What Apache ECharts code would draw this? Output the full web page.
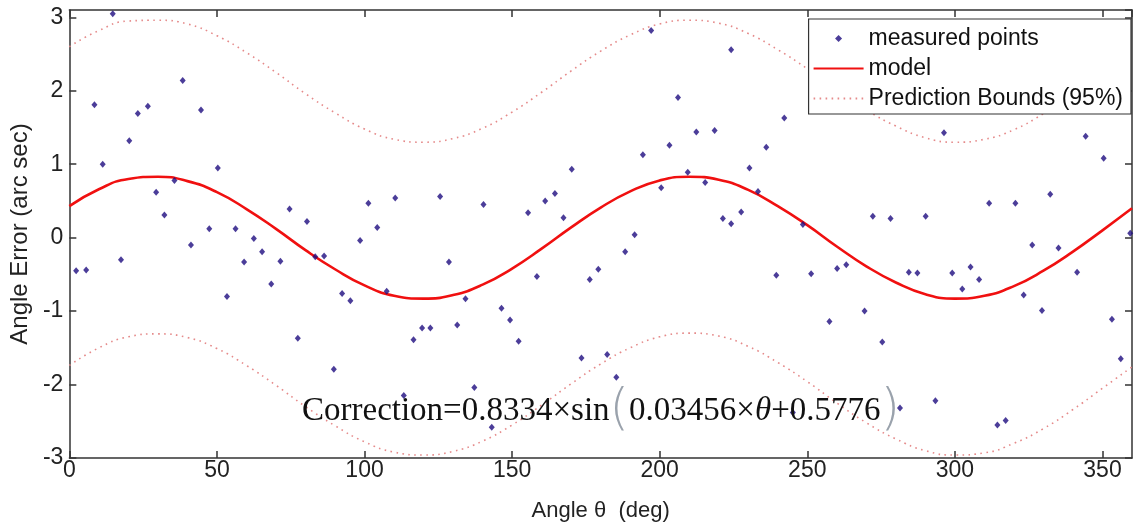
<!DOCTYPE html>
<html>
<head>
<meta charset="utf-8">
<script src="https://cdn.jsdelivr.net/npm/echarts@6/dist/echarts.min.js"></script>
<style>html,body{margin:0;padding:0;background:#fff;}#c{width:1136px;height:527px;}</style>
</head>
<body>
<div id="c"></div>
<script>
// measured points (deg, arc sec)
const pointAngles = [2.3,5.7,8.5,11.3,14.7,17.5,20.3,23.2,26.6,29.4,32.2,35.6,38.4,41.2,44.6,47.4,50.3,53.4,56.3,59.2,62.5,65.3,68.4,71.5,74.6,77.4,80.5,83.3,86.3,89.6,92.4,95.2,98.5,101.3,104.3,107.5,110.4,113.3,116.6,119.5,122.3,125.6,128.6,131.4,134.2,137.2,140.3,143.1,146.4,149.3,152.2,155.4,158.4,161.2,164.5,167.4,170.2,173.5,176.3,179.2,182.2,185.3,188.3,191.5,194.3,197.1,200.5,203.3,206.2,209.5,212.4,215.4,218.6,221.4,224.2,224.2,227.6,230.4,233.3,236.1,239.5,242.2,245.1,248.5,251.3,257.5,260.1,263.2,269.4,272.2,275.4,278.2,281.4,284.4,287.3,290.1,293.4,296.3,299.1,302.5,305.3,308.2,311.6,314.4,317.2,320.5,323.3,326.2,329.5,332.3,335.1,341.4,344.3,350.4,353.2,356.2,359.4];
const pointErrors = [-0.45,-0.44,1.81,1.00,3.05,-0.30,1.32,1.69,1.79,0.62,0.31,0.78,2.14,-0.10,1.74,0.12,0.95,-0.80,0.12,-0.33,-0.01,-0.19,-0.63,-0.32,0.39,-1.37,0.22,-0.26,-0.25,-1.79,-0.76,-0.86,-0.04,0.47,0.14,-0.73,0.54,-2.15,-1.39,-1.23,-1.23,0.56,-0.33,-1.19,-0.83,-2.04,0.45,-2.58,-0.96,-1.12,-1.41,0.34,-0.53,0.50,0.60,0.27,0.93,-1.64,-0.57,-0.43,-1.59,-1.90,-0.19,0.04,1.13,2.82,0.68,1.26,1.91,0.89,1.44,0.75,1.46,0.26,0.19,2.56,0.35,0.95,0.63,1.23,-0.51,1.63,-2.38,0.18,-0.49,-1.14,-0.42,-0.37,-1.00,0.29,-1.42,0.26,-2.32,-0.47,-0.48,0.29,-2.22,1.43,-0.48,-0.70,-0.40,-0.57,0.47,-2.55,-2.49,0.47,-0.78,-0.10,-0.99,0.59,-0.14,-0.47,1.38,1.08,-1.11,-1.65,0.06];

// model curve and prediction bounds read at 10-degree steps
const curveAngles = [0,10,20,30,40,50,60,70,80,90,100,110,120,130,140,150,160,170,180,190,200,210,220,230,240,250,260,270,280,290,300,310,320,330,340,350,360];
const modelValues = [0.43,0.66,0.80,0.83,0.77,0.62,0.39,0.12,-0.17,-0.43,-0.65,-0.79,-0.83,-0.78,-0.64,-0.42,-0.15,0.14,0.41,0.63,0.78,0.83,0.79,0.65,0.43,0.17,-0.12,-0.39,-0.61,-0.77,-0.83,-0.79,-0.66,-0.45,-0.19,0.10,0.40];
const upperBound = [2.60,2.82,2.95,2.96,2.91,2.75,2.52,2.25,1.96,1.70,1.48,1.34,1.30,1.35,1.49,1.71,1.98,2.27,2.54,2.76,2.91,2.96,2.92,2.78,2.56,2.30,2.01,1.74,1.52,1.36,1.30,1.34,1.47,1.69,1.96,2.26,2.57];
const lowerBound = [-1.74,-1.50,-1.35,-1.31,-1.36,-1.51,-1.74,-2.01,-2.30,-2.56,-2.78,-2.92,-2.96,-2.91,-2.77,-2.55,-2.28,-1.99,-1.72,-1.50,-1.35,-1.30,-1.34,-1.48,-1.70,-1.96,-2.25,-2.52,-2.74,-2.90,-2.96,-2.93,-2.80,-2.60,-2.34,-2.05,-1.76];

const seriesNames = ['measured points','model','Prediction Bounds (95%)'];
const xLabelTitle = 'Angle θ  (deg)';
const yLabelTitle = 'Angle Error (arc sec)';

const zip = (a, b) => a.map((v, i) => [v, b[i]]);

const chart = echarts.init(document.getElementById('c'), null, {renderer: 'canvas'});
const axisCommon = {
  axisLine: {show: true, onZero: false, lineStyle: {color: '#333', width: 1.5}},
  axisTick: {show: true, inside: true, length: 7, lineStyle: {color: '#333', width: 1.5}},
  splitLine: {show: false}
};
const pinkDots = {color: '#e58a8a', width: 1.6, type: [1.6, 4.4]};
const dotColor = '#1e0c80';
chart.setOption({
  animation: false,
  backgroundColor: '#fff',
  grid: {left: 68, right: 4, top: 10, bottom: 69},
  legend: {
    orient: 'vertical', right: 5, top: 19,
    backgroundColor: '#fff', borderColor: '#333', borderWidth: 1.2, borderRadius: 0,
    padding: [8, 8, 4, 4],
    itemWidth: 50, itemHeight: 7, itemGap: 7,
    textStyle: {fontFamily: 'Liberation Sans, Arial', fontSize: 23, color: '#111'},
    data: [
      {name: seriesNames[0], icon: 'path://M0,0 M48,7 M24,0 L27.5,3.5 L24,7 L20.5,3.5 Z', itemStyle: {color: dotColor}},
      {name: seriesNames[1], itemStyle: {opacity: 0}},
      {name: seriesNames[2], itemStyle: {opacity: 0}}
    ]
  },
  xAxis: [
    Object.assign({type: 'value', min: 0, max: 360, interval: 50, position: 'bottom',
      name: xLabelTitle, nameLocation: 'middle', nameGap: 42,
      nameTextStyle: {fontFamily: 'Liberation Sans, Arial', fontSize: 22, color: '#222'},
      axisLabel: {fontFamily: 'Liberation Sans, Arial', fontSize: 23, color: '#222', margin: 1, showMaxLabel: false}
    }, axisCommon),
    Object.assign({type: 'value', min: 0, max: 360, interval: 50, position: 'top', axisLabel: {show: false}}, axisCommon)
  ],
  yAxis: [
    Object.assign({type: 'value', min: -3, max: 3.1, interval: 1, position: 'left',
      name: yLabelTitle, nameLocation: 'middle', nameGap: 34,
      nameTextStyle: {fontFamily: 'Liberation Sans, Arial', fontSize: 24, color: '#222'},
      axisLabel: {fontFamily: 'Liberation Sans, Arial', fontSize: 23, color: '#222', margin: 6, showMaxLabel: false}
    }, axisCommon),
    Object.assign({type: 'value', min: -3, max: 3.1, interval: 1, position: 'right', axisLabel: {show: false}}, axisCommon)
  ],
  series: [
    {
      name: seriesNames[2], type: 'line', data: zip(curveAngles, upperBound),
      smooth: 0.5, symbol: 'none', lineStyle: pinkDots, itemStyle: {color: '#e58a8a'}, z: 2
    },
    {
      name: seriesNames[2], type: 'line', data: zip(curveAngles, lowerBound),
      smooth: 0.5, symbol: 'none', lineStyle: pinkDots, itemStyle: {color: '#e58a8a'}, z: 2
    },
    {
      name: seriesNames[1], type: 'line', data: zip(curveAngles, modelValues),
      smooth: 0.5, symbol: 'none', lineStyle: {color: '#f01010', width: 2.6}, itemStyle: {color: '#f01010'}, z: 3
    },
    {
      name: seriesNames[0], type: 'scatter', data: zip(pointAngles, pointErrors),
      symbol: 'diamond', symbolSize: [6, 7], itemStyle: {color: dotColor}, z: 4
    }
  ],
  graphic: [{
    type: 'text', left: 302, top: 386, z: 10,
    style: {
      text: '{a|Correction=0.8334×sin}{p|(}{a|0.03456×}{i|θ}{a|+0.5776}{p|)}',
      rich: {
        a: {fontFamily: 'Liberation Serif, Times New Roman', fontSize: 33, fill: '#111', verticalAlign: 'middle'},
        i: {fontFamily: 'Liberation Serif, Times New Roman', fontSize: 33, fontStyle: 'italic', fill: '#111', verticalAlign: 'middle'},
        p: {fontFamily: 'DejaVu Sans', fontSize: 50, fontWeight: 200, fill: '#9aa2ac', verticalAlign: 'middle'}
      }
    }
  }]
});
</script>
</body>
</html>
